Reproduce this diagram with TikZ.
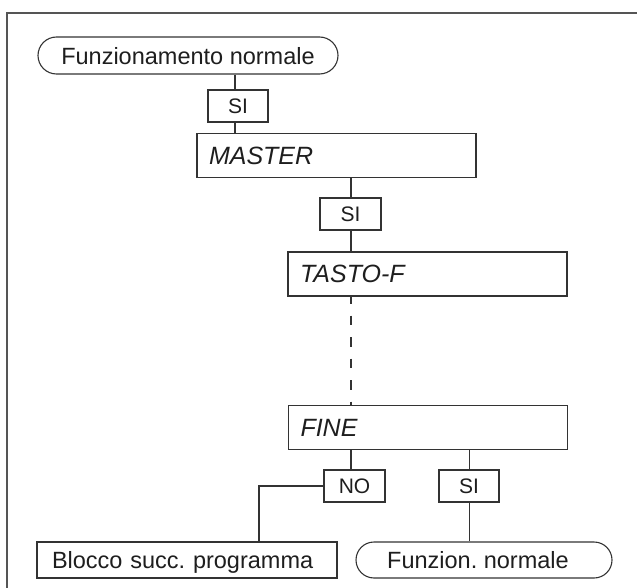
\documentclass[tikz,border=0pt]{standalone}
\usepackage{fontspec}
\setmainfont{Liberation Sans}
\usetikzlibrary{shapes.misc}
\frenchspacing
\definecolor{framegray}{HTML}{555555}
\definecolor{ink}{HTML}{333333}
\definecolor{txt}{HTML}{1E1E1E}
\begin{document}
\begin{tikzpicture}[x=1pt,y=-1pt,
  box/.style={draw=ink, line width=1.1pt, rectangle, inner ysep=0pt,
    text=txt, text depth=0pt},
  pill/.style={box, rounded rectangle, inner xsep=0pt,
    font=\fontsize{23.5}{28}\selectfont},
  answer/.style={box, minimum width=60pt, minimum height=32pt, inner xsep=0pt,
    font=\fontsize{21}{25}\selectfont},
  stepbox/.style={box, minimum height=43.5pt, inner xsep=12pt, text width=255pt,
    align=left, font=\fontsize{25}{30}\selectfont\itshape},
  outbox/.style={box, minimum height=36pt, inner xsep=15pt, text width=270pt,
    align=left, font=\fontsize{23.5}{28}\selectfont},
  link/.style={draw=ink, line width=1.1pt},
  gap/.style={link, dash pattern=on 9.5pt off 12pt, dash phase=2.5pt},
  framing/.style={draw=framegray, line width=2pt}
]
\useasboundingbox (0,0) rectangle (637,588);

% outer frame (top and left edges)
\coordinate (fr) at (637,13);
\coordinate (fc) at (7,13);
\coordinate (fb) at (7,588);
\draw[framing] (fr) -- (fc) -- (fb);

% nodes
\node[pill, minimum width=300pt, minimum height=37pt] (start) at (188,55.5) {Funzionamento normale};
\node[answer] (si1) at (238,106) {SI};
\node[stepbox] (master) at (336.5,155.5) {MASTER};
\node[answer, minimum width=61pt] (si2) at (350.5,214) {SI};
\node[stepbox, minimum height=44pt] (tasto) at (427.5,274) {TASTO-F};
\node[stepbox] (fine) at (428,427.5) {FINE};
\node[answer, minimum width=61pt] (no) at (354.5,486) {NO};
\node[answer] (si3) at (469,486) {SI};
\node[outbox] (blocco) at (187,560) {Blocco succ. programma};
\node[pill, minimum width=256pt, minimum height=36pt] (fin) at (484,560) {Funzion. normale\hspace*{12pt}};

% vertical guide lines for connectors
\coordinate (c1) at (235,0);
\coordinate (c2) at (351,0);
\coordinate (c3) at (469.5,0);
\coordinate (c4) at (259,0);

% connectors
\draw[link] (start.south -| c1) -- (si1.north -| c1);
\draw[link] (si1.south -| c1) -- (master.north -| c1);
\draw[link] (master.south -| c2) -- (si2.north -| c2);
\draw[link] (si2.south -| c2) -- (tasto.north -| c2);
\draw[gap] (tasto.south -| c2) -- (fine.north -| c2);
\draw[link] (fine.south -| c2) -- (no.north -| c2);
\draw[link] (fine.south -| c3) -- (si3.north -| c3);
\draw[link] (si3.south -| c3) -- (fin.north -| c3);
\draw[link] (no.west) -| (blocco.north -| c4);
\end{tikzpicture}
\end{document}
